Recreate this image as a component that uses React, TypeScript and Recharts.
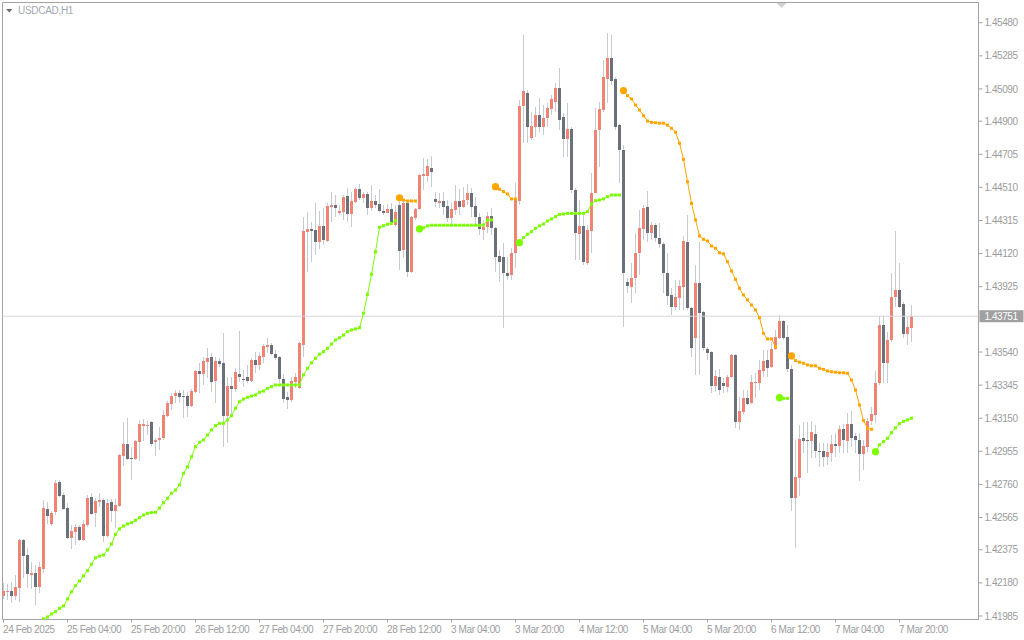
import React from 'react';
import { ComposedChart, Bar, Line, XAxis, YAxis, ReferenceLine, ReferenceArea } from 'recharts';

const BULL = '#ef8374';
const BEAR = '#6b7079';
const WICK = '#c6cad3';
const FRAME = '#a3a3a3';
const TXT = '#9c9c9c';
const GREEN = '#7cfc00';
const ORANGE = '#ffa500';
const FONT = '"Liberation Sans", Arial, sans-serif';

const symbol = 'USDCAD,H1';
const lastPrice = 1.43751;

const opens = [
  1.42103, 1.42129, 1.42132, 1.42103, 1.4215, 1.42433, 1.42344, 1.42226, 1.42238, 1.42156,
  1.42262, 1.42615, 1.42527, 1.42598, 1.42774, 1.42698, 1.42621, 1.42445, 1.4248, 1.42509,
  1.42433, 1.42521, 1.42686, 1.42592, 1.42657, 1.42668, 1.42456, 1.42657, 1.42604, 1.42633,
  1.42928, 1.42998, 1.42917, 1.4291, 1.4301, 1.43104, 1.43104, 1.43128, 1.4301, 1.43022,
  1.43034, 1.43163, 1.43234, 1.43281, 1.43299, 1.43283, 1.43281, 1.43222, 1.43305, 1.43428,
  1.43411, 1.43481, 1.43511, 1.43369, 1.43487, 1.43475, 1.43163, 1.4334, 1.43322, 1.43411,
  1.43381, 1.43393, 1.43369, 1.43493, 1.43464, 1.43511, 1.43571, 1.43581, 1.43528, 1.43511,
  1.43381, 1.43275, 1.43257, 1.43363, 1.43328, 1.43581, 1.44249, 1.44265, 1.44259, 1.44188,
  1.44283, 1.44194, 1.44396, 1.44406, 1.44361, 1.44365, 1.44459, 1.44353, 1.44424, 1.445,
  1.44447, 1.44471, 1.44389, 1.4443, 1.44412, 1.44373, 1.44361, 1.44383, 1.4429, 1.44406,
  1.44141, 1.44418, 1.44011, 1.4433, 1.44383, 1.44579, 1.44577, 1.44624, 1.44442, 1.4442,
  1.4443, 1.444, 1.4433, 1.44377, 1.4443, 1.44394, 1.44436, 1.44477, 1.444, 1.44336,
  1.44259, 1.44277, 1.44341, 1.44271, 1.44106, 1.441, 1.44006, 1.43994, 1.44123, 1.4443,
  1.44989, 1.45066, 1.44801, 1.44866, 1.44936, 1.44866, 1.44919, 1.44972, 1.45013, 1.45095,
  1.44925, 1.44795, 1.44854, 1.44495, 1.44235, 1.44283, 1.44066, 1.44253, 1.44477, 1.44848,
  1.44966, 1.45148, 1.45272, 1.45148, 1.44877, 1.4473, 1.43953, 1.43923, 1.43976, 1.44123,
  1.44265, 1.44394, 1.44241, 1.44288, 1.44212, 1.44176, 1.44006, 1.43876, 1.43805, 1.43858,
  1.43923, 1.44188, 1.43799, 1.43623, 1.43947, 1.43776, 1.43558, 1.4354, 1.4334, 1.43393,
  1.43358, 1.43334, 1.43393, 1.43523, 1.43128, 1.43187, 1.43269, 1.4324, 1.43359, 1.43358,
  1.43428, 1.43493, 1.43452, 1.43558, 1.43623, 1.43723, 1.43629, 1.4344, 1.4268, 1.42798,
  1.43034, 1.43022, 1.43016, 1.43057, 1.42957, 1.42957, 1.42922, 1.42945, 1.42998, 1.42987,
  1.43087, 1.43016, 1.43116, 1.43045, 1.43022, 1.42939, 1.42981, 1.43134, 1.43169, 1.43358,
  1.43699, 1.43475, 1.43611, 1.43864, 1.43905, 1.43823, 1.43646, 1.43682,
];

const highs = [
  1.42179, 1.42173, 1.42185, 1.42226, 1.42439, 1.42439, 1.42386, 1.42303, 1.42285, 1.42303,
  1.42668, 1.42657, 1.42604, 1.42786, 1.42786, 1.4271, 1.42651, 1.42521, 1.42527, 1.42521,
  1.42551, 1.42698, 1.4271, 1.4268, 1.4271, 1.4268, 1.42674, 1.42674, 1.42674, 1.42939,
  1.43128, 1.43151, 1.42981, 1.43022, 1.4314, 1.43146, 1.43134, 1.43134, 1.43034, 1.43098,
  1.43199, 1.43252, 1.43299, 1.43316, 1.43316, 1.43316, 1.43305, 1.43322, 1.43434, 1.43475,
  1.43511, 1.43564, 1.43534, 1.43511, 1.43505, 1.43652, 1.43393, 1.43393, 1.43446, 1.43664,
  1.43434, 1.43464, 1.43505, 1.4354, 1.4354, 1.43587, 1.43623, 1.43593, 1.43552, 1.43517,
  1.43411, 1.43305, 1.43393, 1.43416, 1.43599, 1.44336, 1.44365, 1.44306, 1.44418, 1.44371,
  1.44389, 1.44418, 1.44483, 1.44465, 1.44406, 1.44465, 1.44506, 1.44483, 1.44512, 1.4453,
  1.44483, 1.44483, 1.44524, 1.44465, 1.445, 1.44406, 1.44412, 1.44418, 1.44406, 1.44436,
  1.44436, 1.44436, 1.44341, 1.44389, 1.44589, 1.44683, 1.44677, 1.44695, 1.44483, 1.44477,
  1.44483, 1.44436, 1.44418, 1.44524, 1.445, 1.44512, 1.4453, 1.44506, 1.44453, 1.44359,
  1.44318, 1.44365, 1.44389, 1.44277, 1.44141, 1.44182, 1.441, 1.44153, 1.44536, 1.45025,
  1.45408, 1.45084, 1.44954, 1.44984, 1.45037, 1.44995, 1.45007, 1.45054, 1.45125, 1.45213,
  1.44948, 1.45007, 1.44866, 1.44506, 1.44436, 1.44347, 1.44288, 1.44595, 1.44978, 1.45013,
  1.4526, 1.45419, 1.45408, 1.4516, 1.44883, 1.4476, 1.43976, 1.44064, 1.44241, 1.44377,
  1.44406, 1.44489, 1.44306, 1.443, 1.443, 1.44188, 1.44123, 1.43917, 1.43964, 1.43964,
  1.44224, 1.44347, 1.43805, 1.44053, 1.44188, 1.43782, 1.4357, 1.43546, 1.43434, 1.4344,
  1.43387, 1.43405, 1.43528, 1.43528, 1.43275, 1.43316, 1.43316, 1.43405, 1.43416, 1.43493,
  1.43552, 1.43552, 1.43599, 1.4367, 1.43758, 1.43729, 1.43699, 1.43464, 1.43022, 1.4311,
  1.43128, 1.43128, 1.43134, 1.4311, 1.43004, 1.43004, 1.43004, 1.43051, 1.43063, 1.4311,
  1.43116, 1.43181, 1.43193, 1.43063, 1.43063, 1.43022, 1.43151, 1.43216, 1.43428, 1.43752,
  1.43752, 1.43658, 1.44006, 1.44253, 1.44064, 1.43835, 1.43746, 1.43817,
];

const lows = [
  1.42085, 1.42079, 1.42062, 1.42079, 1.42067, 1.42209, 1.4215, 1.42144, 1.4205, 1.4212,
  1.42238, 1.42527, 1.42515, 1.4258, 1.42686, 1.42609, 1.42439, 1.4238, 1.42403, 1.42427,
  1.42427, 1.42509, 1.4258, 1.42509, 1.42627, 1.42421, 1.42445, 1.42539, 1.42503, 1.42627,
  1.42869, 1.42904, 1.42786, 1.42904, 1.42898, 1.43016, 1.43051, 1.42987, 1.42928, 1.42963,
  1.43022, 1.43157, 1.43199, 1.4324, 1.4324, 1.43151, 1.43157, 1.43216, 1.43299, 1.43299,
  1.43346, 1.43387, 1.43305, 1.4324, 1.43452, 1.42981, 1.43004, 1.43157, 1.43305, 1.43363,
  1.43334, 1.43358, 1.43363, 1.43416, 1.43434, 1.43475, 1.43534, 1.43523, 1.43493, 1.43358,
  1.4324, 1.43204, 1.43246, 1.43328, 1.43322, 1.43511, 1.44011, 1.4407, 1.44112, 1.44147,
  1.44171, 1.44188, 1.44306, 1.44336, 1.44347, 1.44318, 1.44306, 1.44277, 1.44418, 1.44436,
  1.44418, 1.44347, 1.44371, 1.44389, 1.44365, 1.44347, 1.44359, 1.44288, 1.44277, 1.44023,
  1.44094, 1.43982, 1.44006, 1.44318, 1.44377, 1.44495, 1.44542, 1.44512, 1.44394, 1.44389,
  1.44347, 1.44306, 1.44277, 1.44347, 1.44347, 1.44389, 1.44406, 1.44336, 1.44288, 1.44229,
  1.442, 1.44241, 1.44229, 1.44011, 1.43953, 1.43682, 1.43964, 1.43964, 1.44035, 1.44406,
  1.44771, 1.44771, 1.44789, 1.44807, 1.44836, 1.44819, 1.44866, 1.44936, 1.44954, 1.44848,
  1.44689, 1.44689, 1.44477, 1.44082, 1.44082, 1.44053, 1.44053, 1.44123, 1.4463, 1.4463,
  1.44954, 1.45007, 1.45113, 1.44848, 1.44536, 1.43688, 1.43888, 1.43829, 1.43888, 1.43994,
  1.442, 1.44188, 1.442, 1.44188, 1.44153, 1.43888, 1.43817, 1.43758, 1.43788, 1.43788,
  1.43788, 1.43788, 1.43511, 1.43405, 1.43405, 1.43552, 1.43493, 1.43299, 1.43305, 1.43287,
  1.43299, 1.43305, 1.43387, 1.43093, 1.43081, 1.43175, 1.43228, 1.43234, 1.43269, 1.43316,
  1.43393, 1.43393, 1.43446, 1.43552, 1.43617, 1.43611, 1.43422, 1.42604, 1.42386, 1.42692,
  1.42945, 1.42827, 1.42916, 1.42916, 1.42863, 1.42863, 1.42874, 1.42892, 1.42922, 1.42945,
  1.42945, 1.42945, 1.42981, 1.42945, 1.4278, 1.42845, 1.42951, 1.4311, 1.43122, 1.43346,
  1.43358, 1.43358, 1.43599, 1.43805, 1.43799, 1.43623, 1.43581, 1.43599,
];

const closes = [
  1.42132, 1.42132, 1.42103, 1.42156, 1.42433, 1.42338, 1.42232, 1.42238, 1.42156, 1.42274,
  1.42621, 1.42574, 1.42592, 1.42768, 1.42692, 1.42615, 1.42445, 1.42486, 1.42509, 1.42433,
  1.42527, 1.4268, 1.42586, 1.42662, 1.42668, 1.42456, 1.42651, 1.42604, 1.42639, 1.42933,
  1.42998, 1.4291, 1.42912, 1.43016, 1.43116, 1.43116, 1.43113, 1.42998, 1.43022, 1.43035,
  1.43169, 1.4324, 1.43281, 1.43299, 1.43275, 1.43277, 1.43222, 1.4331, 1.43428, 1.43411,
  1.43487, 1.43505, 1.43363, 1.43487, 1.43469, 1.43163, 1.4334, 1.43322, 1.43422, 1.43393,
  1.43377, 1.43369, 1.43493, 1.43464, 1.43517, 1.43576, 1.43581, 1.43528, 1.43505, 1.43381,
  1.43263, 1.43257, 1.43369, 1.43393, 1.43593, 1.44253, 1.44265, 1.44255, 1.44188, 1.44283,
  1.442, 1.444, 1.44406, 1.4439, 1.44371, 1.44453, 1.44353, 1.4443, 1.445, 1.44447,
  1.44471, 1.44389, 1.4443, 1.44406, 1.44371, 1.44361, 1.44381, 1.44294, 1.44365, 1.44135,
  1.44418, 1.44011, 1.44336, 1.44383, 1.44583, 1.44587, 1.44636, 1.44601, 1.44424, 1.44432,
  1.44394, 1.4433, 1.44383, 1.4443, 1.44394, 1.44436, 1.44477, 1.44394, 1.44336, 1.44265,
  1.44277, 1.44341, 1.44271, 1.441, 1.4407, 1.44006, 1.43988, 1.44123, 1.44436, 1.44989,
  1.45078, 1.44866, 1.44872, 1.44936, 1.44866, 1.44919, 1.44978, 1.45031, 1.45095, 1.44907,
  1.44795, 1.44854, 1.44495, 1.44241, 1.44283, 1.4407, 1.44259, 1.44477, 1.44848, 1.44972,
  1.4516, 1.45272, 1.45137, 1.44866, 1.4473, 1.44006, 1.43929, 1.43976, 1.44123, 1.44271,
  1.44389, 1.44241, 1.44288, 1.44212, 1.44176, 1.44006, 1.4387, 1.43805, 1.43864, 1.43929,
  1.44194, 1.43799, 1.43564, 1.43947, 1.4377, 1.43564, 1.43534, 1.4334, 1.43399, 1.43316,
  1.4334, 1.43393, 1.43523, 1.43128, 1.43193, 1.43269, 1.43234, 1.43363, 1.43365, 1.43434,
  1.43487, 1.43446, 1.43558, 1.43629, 1.43723, 1.43623, 1.4344, 1.4268, 1.42804, 1.43028,
  1.43016, 1.43016, 1.43069, 1.42957, 1.42953, 1.42922, 1.42951, 1.42998, 1.42988, 1.43087,
  1.43022, 1.43116, 1.43034, 1.43022, 1.42939, 1.42987, 1.43134, 1.43175, 1.43358, 1.43699,
  1.43475, 1.43611, 1.43864, 1.43905, 1.43805, 1.43646, 1.43688, 1.43751,
];

// trailing-stop indicator: support (green) and resistance (orange) segments
const greenStarts = [10, 104, 129, 194, 218];
const greenSeg1 = [
  1.41968, 1.41979, 1.41997, 1.4201, 1.4203, 1.42044, 1.42085, 1.42128, 1.42163, 1.42191,
  1.42221, 1.42252, 1.4229, 1.42328, 1.42338, 1.42344, 1.42374, 1.42409, 1.42466, 1.42498,
  1.42515, 1.42527, 1.42535, 1.42549, 1.42564, 1.4258, 1.4259, 1.42594, 1.42596, 1.42621,
  1.42652, 1.42678, 1.42708, 1.42727, 1.42757, 1.42826, 1.42864, 1.42923, 1.42982, 1.43008,
  1.43022, 1.43051, 1.43081, 1.43106, 1.4312, 1.4312, 1.4314, 1.43165, 1.43209, 1.43247,
  1.43263, 1.43273, 1.43281, 1.43287, 1.43303, 1.4331, 1.43326, 1.43336, 1.43346, 1.43346,
  1.43346, 1.43346, 1.43346, 1.43346, 1.43346, 1.43405, 1.43444, 1.43477, 1.43503, 1.43527,
  1.43542, 1.43562, 1.43587, 1.43611, 1.43624, 1.4364, 1.4366, 1.4367, 1.43676, 1.43683,
  1.43768, 1.4388, 1.43998, 1.44131, 1.44275, 1.44284, 1.44293, 1.44298, 1.44314,
];
const greenSeg2 = [
  1.44265, 1.44272, 1.44283, 1.44287, 1.44287, 1.44287, 1.44287, 1.44287, 1.44287, 1.44287,
  1.44287, 1.44287, 1.44287, 1.44287, 1.44287, 1.44287, 1.44288, 1.44316, 1.44318,
];
const greenSeg3 = [
  1.44184, 1.44214, 1.44234, 1.44249, 1.44269, 1.44283, 1.44294, 1.44312, 1.44324, 1.44337,
  1.44351, 1.44353, 1.44357, 1.44357, 1.44357, 1.44357, 1.44357, 1.44367, 1.44412, 1.44432,
  1.44436, 1.44442, 1.44455, 1.44465, 1.44465, 1.44465,
];
const greenSeg4 = [1.43271, 1.43267, 1.43267];
const greenSeg5 = [
  1.42953, 1.42993, 1.43012, 1.43032, 1.43065, 1.43093, 1.43118, 1.43132, 1.4314, 1.4315,
];
const greenBigDots = [104, 129, 194, 218];

const orangeStarts = [99, 123, 155, 197];
const orangeSeg1 = [1.44449, 1.44436, 1.4443, 1.4443, 1.4443];
const orangeSeg2 = [1.44514, 1.44499, 1.44485, 1.44471, 1.44442, 1.44442];
const orangeSeg3 = [
  1.4508, 1.4505, 1.45031, 1.44995, 1.44966, 1.44932, 1.44901, 1.44893, 1.44891, 1.44888,
  1.44888, 1.44877, 1.44858, 1.44835, 1.4477, 1.44675, 1.44543, 1.44416, 1.44318, 1.44224,
  1.44204, 1.44194, 1.44165, 1.44151, 1.44125, 1.44118, 1.44072, 1.44017, 1.43968, 1.43915,
  1.43876, 1.43847, 1.43817, 1.43788, 1.43742, 1.4365, 1.43617, 1.43617, 1.43571,
];
const orangeSeg4 = [
  1.43517, 1.43489, 1.4348, 1.43474, 1.43464, 1.43459, 1.43459, 1.43444, 1.43438, 1.43428,
  1.43424, 1.43421, 1.43418, 1.43418, 1.43415, 1.43375, 1.43316, 1.43228, 1.43136, 1.43091,
  1.43085,
];
const orangeBigDots = [99, 123, 155, 197];

const xTickIdx = [0, 16, 32, 48, 64, 80, 96, 112, 128, 144, 160, 176, 192, 208, 224];
const xTickLabels = [
  '24 Feb 2025', '25 Feb 04:00', '25 Feb 20:00', '26 Feb 12:00', '27 Feb 04:00',
  '27 Feb 20:00', '28 Feb 12:00', '3 Mar 04:00', '3 Mar 20:00', '4 Mar 12:00',
  '5 Mar 04:00', '5 Mar 20:00', '6 Mar 12:00', '7 Mar 04:00', '7 Mar 20:00',
];
const yTicks = [
  1.4548, 1.45285, 1.4509, 1.449, 1.44705, 1.4451, 1.44315, 1.4412, 1.43925,
  1.4354, 1.43345, 1.4315, 1.42955, 1.4276, 1.42565, 1.42375, 1.4218, 1.41985,
];
const yDomain = [1.419643, 1.455991];
const xDomain = [-0.25, 243.75];

const buildLine = (starts: number[], segs: number[][]) => {
  const arr: (number | null)[] = opens.map(() => null);
  starts.forEach((s, k) => segs[k].forEach((v, j) => { arr[s + j] = v; }));
  return arr;
};
const greenLine = buildLine(greenStarts, [greenSeg1, greenSeg2, greenSeg3, greenSeg4, greenSeg5]);
const orangeLine = buildLine(orangeStarts, [orangeSeg1, orangeSeg2, orangeSeg3, orangeSeg4]);

const data = opens.map((o, i) => ({
  i,
  open: o,
  high: highs[i],
  low: lows[i],
  close: closes[i],
  range: [lows[i], highs[i]],
  green: greenLine[i],
  orange: orangeLine[i],
}));

const Candle = (props: any) => {
  const { x, y, width, height, payload } = props;
  if (x == null || y == null || !payload) return null;
  const { open, close, high, low } = payload;
  const top = Math.min(y, y + height);
  const h = Math.abs(height);
  const cx = Math.round(x + width / 2 - 0.5) + 0.5;
  const span = high - low;
  const toY = (v: number) => (span === 0 ? top : top + ((high - v) / span) * h);
  const up = close >= open;
  const bTop = toY(Math.max(open, close));
  const bBot = toY(Math.min(open, close));
  return (
    <g shapeRendering="crispEdges">
      <rect x={cx - 0.5} y={top} width={1} height={Math.max(1, h)} fill={WICK} />
      <rect x={cx - 1.5} y={bTop} width={3} height={Math.max(1, bBot - bTop)} fill={up ? BULL : BEAR} />
    </g>
  );
};

const makeDot = (big: number[], color: string) => (props: any) => {
  const { cx, cy, index, value } = props;
  if (cx == null || cy == null || value == null) return <g key={`d${index}`} />;
  if (big.includes(index)) {
    return <circle key={`d${index}`} cx={cx} cy={cy} r={3.6} fill={color} />;
  }
  return <rect key={`d${index}`} x={cx - 1.5} y={cy - 1.5} width={3} height={3} fill={color} />;
};

const YTick = (props: any) => {
  const { x, y, payload } = props;
  return (
    <text x={x} y={y} dy={3.6} fill={TXT} fontSize={10} fontFamily={FONT} letterSpacing={-0.45} textAnchor="start">
      {Number(payload.value).toFixed(5)}
    </text>
  );
};

const XTick = (props: any) => {
  const { x, y, payload } = props;
  const k = xTickIdx.indexOf(payload.value);
  return (
    <text x={x - 0.5} y={y} dy={8} fill={TXT} fontSize={10} fontFamily={FONT} letterSpacing={-0.4} textAnchor="start">
      {k >= 0 ? xTickLabels[k] : ''}
    </text>
  );
};

const PriceTag = (props: any) => {
  const vb = props.viewBox || {};
  const right = (vb.x || 0) + (vb.width || 0);
  const yy = vb.y || 0;
  return (
    <g>
      <rect x={right + 1} y={yy - 6} width={44} height={12} fill="#a0a0a0" />
      <text x={right + 6} y={yy + 3.6} fill="#ffffff" fontSize={10} fontFamily={FONT} letterSpacing={-0.45}>
        {lastPrice.toFixed(5)}
      </text>
    </g>
  );
};

export default function App() {
  return (
    <div style={{ position: 'absolute', left: 0, top: 0, width: 1024, height: 640, background: '#ffffff', overflow: 'hidden' }}>
      <ComposedChart
        width={1024}
        height={640}
        data={data}
        margin={{ top: 2.5, right: 0, bottom: 0, left: 2.5 }}
      >
        <XAxis
          dataKey="i"
          type="number"
          domain={xDomain}
          allowDataOverflow
          ticks={xTickIdx}
          interval={0}
          tick={<XTick />}
          tickSize={3}
          tickLine={{ stroke: FRAME }}
          axisLine={{ stroke: FRAME }}
          height={20.5}
        />
        <YAxis
          orientation="right"
          type="number"
          domain={yDomain}
          allowDataOverflow
          ticks={yTicks}
          interval={0}
          tick={<YTick />}
          tickSize={4}
          tickLine={{ stroke: FRAME }}
          axisLine={{ stroke: FRAME }}
          width={45.5}
        />
        <ReferenceArea
          x1={xDomain[0]}
          x2={xDomain[1]}
          y1={yDomain[0]}
          y2={yDomain[1]}
          fill="none"
          fillOpacity={0}
          stroke={FRAME}
          strokeWidth={1}
          ifOverflow="visible"
        />
        <ReferenceLine y={lastPrice} stroke="#d6d6dc" strokeWidth={1} label={<PriceTag />} />
        <Bar dataKey="range" shape={<Candle />} barSize={3} isAnimationActive={false} />
        <Line
          dataKey="green"
          stroke={GREEN}
          strokeWidth={1}
          dot={makeDot(greenBigDots, GREEN)}
          activeDot={false}
          connectNulls={false}
          isAnimationActive={false}
        />
        <Line
          dataKey="orange"
          stroke={ORANGE}
          strokeWidth={1}
          dot={makeDot(orangeBigDots, ORANGE)}
          activeDot={false}
          connectNulls={false}
          isAnimationActive={false}
        />
      </ComposedChart>
      <svg width={1024} height={640} style={{ position: 'absolute', left: 0, top: 0, pointerEvents: 'none' }}>
        <polygon points="6,9 12.5,9 9.25,12.5" fill="#6e6e6e" />
        <text x={18} y={14} fill="#a2a8b2" fontSize={10} fontFamily={FONT} letterSpacing={-0.3}>{symbol}</text>
        <polygon points="776.5,3 786.5,3 781.5,8" fill="#cfd0d6" />
      </svg>
    </div>
  );
}
